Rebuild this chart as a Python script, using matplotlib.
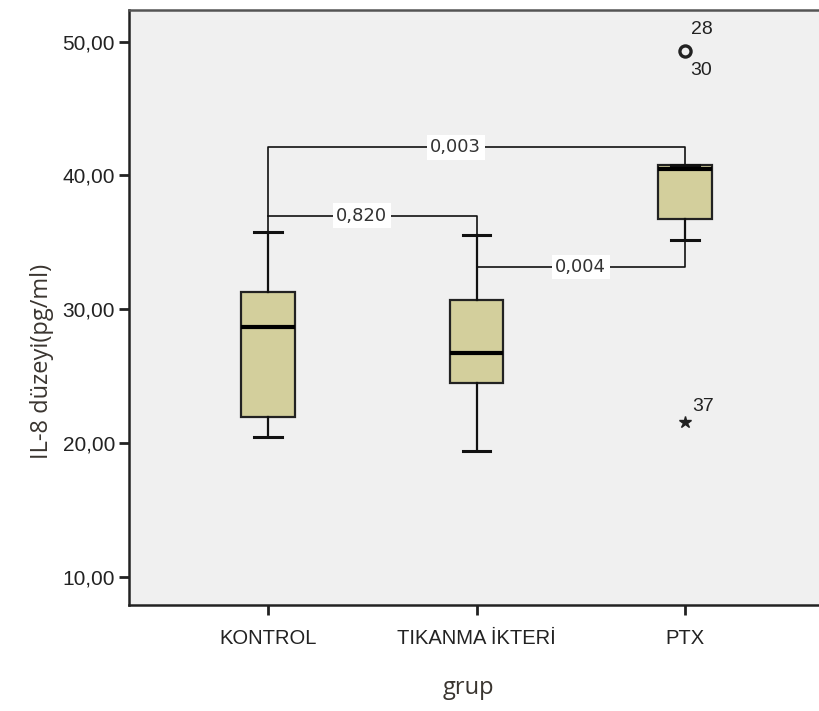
import matplotlib
matplotlib.use("Agg")
import matplotlib.pyplot as plt

categories = ["KONTROL", "TIKANMA İKTERİ", "PTX"]
whislo = [20.47, 19.43, 35.15]
q1 = [21.96, 24.45, 36.77]
med = [28.66, 26.69, 40.45]
q3 = [31.30, 30.67, 40.80]
whishi = [35.80, 35.57, 40.80]

outlier_vals = [49.33]
outlier_labels_top = ["28"]
outlier_labels_bot = ["30"]
extreme_vals = [21.6]
extreme_labels = ["37"]

yticks = [10, 20, 30, 40, 50]
ytick_labels = ["10,00", "20,00", "30,00", "40,00", "50,00"]

# pairwise comparisons: (group i, group j, bracket height, p-value text)
comparisons = [(0, 2, 42.1, "0,003"), (0, 1, 37.0, "0,820"), (1, 2, 33.15, "0,004")]

fig = plt.figure(figsize=(8.19, 7.11), dpi=100)
fig.patch.set_facecolor("white")
ax = fig.add_axes([129/819, 1 - 605/711, (824 - 129)/819, (605 - 10)/711])
ax.set_facecolor("#f0f0f0")

stats = []
for i, c in enumerate(categories):
    stats.append(dict(label=c, whislo=whislo[i], q1=q1[i], med=med[i],
                      q3=q3[i], whishi=whishi[i], fliers=[]))
pos = [1, 2, 3]
ax.bxp(stats, positions=pos, widths=0.255, patch_artist=True, showfliers=False,
       boxprops=dict(facecolor="#d3cf9c", edgecolor="#222222", linewidth=1.6),
       medianprops=dict(color="black", linewidth=3),
       whiskerprops=dict(color="#111111", linewidth=1.6),
       capprops=dict(color="#111111", linewidth=2.2),
       capwidths=0.13, zorder=3)

# outliers for PTX
ax.plot([3] * len(outlier_vals), outlier_vals, marker="o", markersize=8,
        markerfacecolor="none", markeredgecolor="#222222", markeredgewidth=2.4,
        linestyle="none", zorder=4)
for v, lt, lb in zip(outlier_vals, outlier_labels_top, outlier_labels_bot):
    ax.annotate(lt, (3, v), xytext=(4, 9), textcoords="offset points",
                fontsize=14, family="Liberation Sans", color="#222222",
                ha="left", va="bottom")
    ax.annotate(lb, (3, v), xytext=(4, -8), textcoords="offset points",
                fontsize=14, family="Liberation Sans", color="#222222",
                ha="left", va="top")
ax.plot([3] * len(extreme_vals), extreme_vals, marker="*", markersize=9,
        color="#222222", linestyle="none", zorder=4)
for v, lab in zip(extreme_vals, extreme_labels):
    ax.annotate(lab, (3, v), xytext=(5, 5), textcoords="offset points",
                fontsize=14, family="Liberation Sans", color="#222222",
                ha="left", va="bottom")

lw = 1.2
txt_kw = dict(ha="center", va="center", fontsize=13, family="DejaVu Sans", color="#333333",
              bbox=dict(facecolor="white", edgecolor="none", pad=2.5), zorder=5)
# 0,003 : KONTROL -> PTX
i, j, h, t = comparisons[0]
ax.plot([pos[i], pos[i], pos[j], pos[j]], [whishi[i], h, h, q3[j]], color="#111111", lw=lw, zorder=2)
ax.text((pos[i] + pos[j]) / 2 - 0.1, h, t, **txt_kw)
# 0,820 : KONTROL -> TIKANMA
i, j, h, t = comparisons[1]
ax.plot([pos[i], pos[j], pos[j]], [h, h, whishi[j]], color="#111111", lw=lw, zorder=2)
ax.text(pos[i] + 0.45, h, t, **txt_kw)
# 0,004 : TIKANMA -> PTX
i, j, h, t = comparisons[2]
ax.plot([pos[i], pos[j], pos[j]], [h, h, whislo[j]], color="#111111", lw=lw, zorder=2)
ax.text(pos[i] + 0.5, h, t, **txt_kw)

ax.set_xlim(0.333, 3.667)
ax.set_ylim(7.88, 52.37)
ax.set_yticks(yticks)
ax.set_yticklabels(ytick_labels, family="Liberation Sans", fontsize=15, color="#222222")
ax.set_xticks(pos)
ax.set_xticklabels(categories, family="Liberation Sans", fontsize=14.5, color="#222222")
ax.tick_params(axis="both", length=7, width=2, color="#222222", pad=3)
ax.tick_params(axis="x", pad=10)
for s in ["left", "bottom", "top"]:
    ax.spines[s].set_linewidth(1.8)
    ax.spines[s].set_color("#222222")
ax.spines["top"].set_color("#555555")
ax.spines["right"].set_visible(False)

fig.text(42/819, 1 - 361/711, "IL-8 düzeyi(pg/ml)", rotation=90, ha="center", va="center",
         fontsize=17, family="Open Sans", color="#3a3530")
fig.text(468/819, 1 - 688/711, "grup", ha="center", va="center",
         fontsize=17, family="Open Sans", color="#3a3530")

fig.savefig("out.png", dpi=100, facecolor="white")
